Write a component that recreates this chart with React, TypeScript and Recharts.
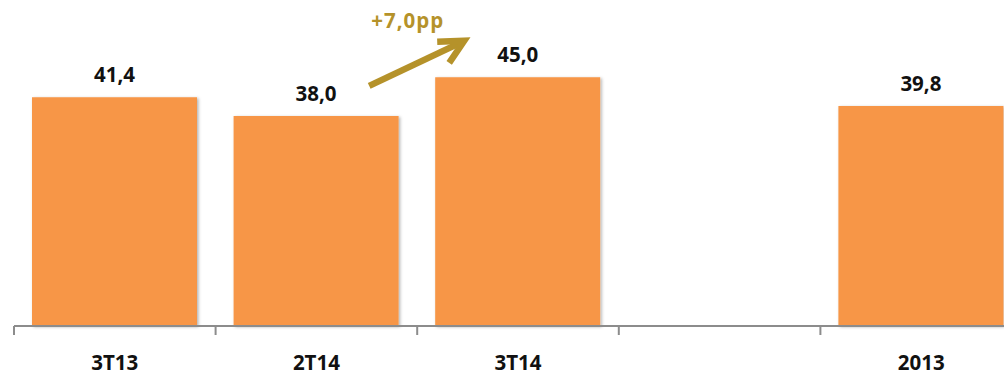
import React from "react";
import { BarChart, Bar, XAxis, YAxis, LabelList } from "recharts";

const categories = ["3T13", "2T14", "3T14", "", "2013"];
const values: (number | null)[] = [41.4, 38.0, 45.0, null, 39.8];
const changeLabel = "+7,0pp";
const changeIndex = 2;

const data = categories.map((c, i) => ({ name: c, value: values[i] }));

const ORANGE = "#F79646";
const GOLD = "#B5922A";
const FONT = "'Open Sans', 'Noto Sans', sans-serif";

const fmt = (v: number) => v.toFixed(1).replace(".", ",");

const ValueLabel = (props: any) => {
  const { x, y, width, value, index } = props;
  if (value == null) return null;
  const cx = x + width / 2;
  const label = (
    <text
      x={cx}
      y={y - 15}
      textAnchor="middle"
      fontFamily={FONT}
      fontWeight="bold"
      fontSize={20.5}
      fill="#111"
    >
      {fmt(Number(value))}
    </text>
  );
  if (index !== changeIndex) return label;
  const sx = x - 66;
  const sy = y + 8.5;
  const tx = x + 29;
  const ty = y - 36.5;
  return (
    <g>
      {label}
      <line x1={sx} y1={sy} x2={tx - 3} y2={ty + 1.5} stroke={GOLD} strokeWidth={6.5} />
      <polyline
        points={`${x + 2},${y - 35.5} ${tx},${ty} ${x + 14},${y - 14.5}`}
        fill="none"
        stroke={GOLD}
        strokeWidth={6.5}
        strokeLinejoin="miter"
      />
      <text
        x={x - 27.5}
        y={y - 49.5}
        textAnchor="middle"
        fontFamily={FONT}
        fontWeight="bold"
        fontSize={20.5}
        letterSpacing={1}
        fill={GOLD}
      >
        {changeLabel}
      </text>
    </g>
  );
};

const CategoryTick = (props: any) => {
  const { x, y, payload, index } = props;
  const half = payload && payload.offset ? payload.offset : 100.8;
  const last = index === categories.length - 1;
  return (
    <g>
      <line x1={x - half} y1={y - 9} x2={x - half} y2={y} stroke="#8c8c8c" strokeWidth={2} />
      {last && (
        <line x1={x + half} y1={y - 9} x2={x + half} y2={y} stroke="#8c8c8c" strokeWidth={2} />
      )}
      <text
        x={x}
        y={y + 35}
        textAnchor="middle"
        fontFamily={FONT}
        fontWeight="bold"
        fontSize={20.5}
        fill="#111"
      >
        {payload.value}
      </text>
    </g>
  );
};

export default function App() {
  return (
    <div
      style={{
        position: "absolute",
        left: 0,
        top: 0,
        width: 1004,
        height: 374,
        overflow: "hidden",
        background: "#fff",
      }}
    >
      <BarChart
        width={1022}
        height={374}
        data={data}
        margin={{ top: 11, right: 0, bottom: 0, left: 14 }}
        barCategoryGap={0}
      >
        <defs>
          <filter id="barShadow" x="-10%" y="-10%" width="120%" height="120%">
            <feDropShadow dx="1.5" dy="1" stdDeviation="1.5" floodColor="#000" floodOpacity="0.3" />
          </filter>
        </defs>
        <XAxis
          dataKey="name"
          height={48}
          tickLine={false}
          tickSize={9}
          tickMargin={0}
          interval={0}
          axisLine={{ stroke: "#8c8c8c", strokeWidth: 2 }}
          tick={<CategoryTick />}
        />
        <YAxis hide domain={[0, 57]} />
        <Bar
          dataKey="value"
          fill={ORANGE}
          barSize={165}
          isAnimationActive={false}
          filter="url(#barShadow)"
        >
          <LabelList dataKey="value" content={<ValueLabel />} />
        </Bar>
      </BarChart>
    </div>
  );
}
